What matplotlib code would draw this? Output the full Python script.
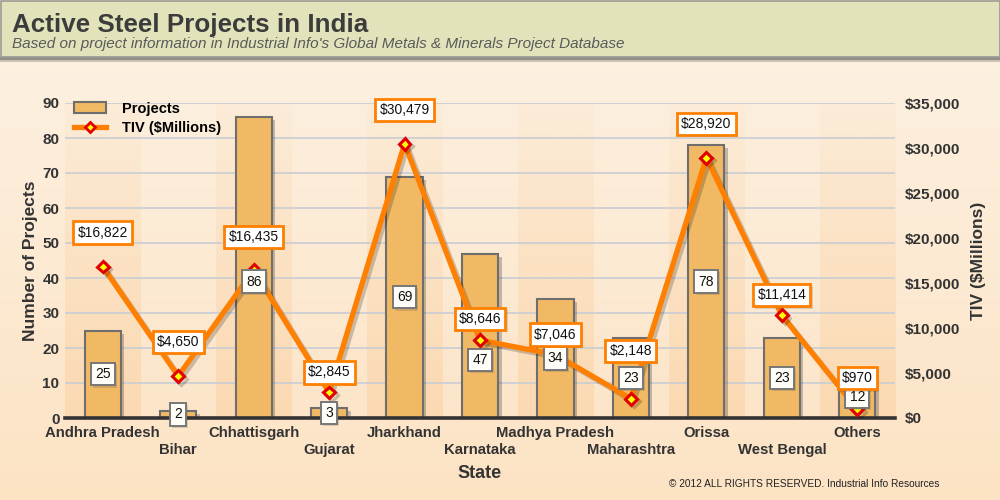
import numpy as np
import matplotlib
matplotlib.use('Agg')
import matplotlib.pyplot as plt
import matplotlib.patheffects as pe
from matplotlib.patches import Rectangle, Patch
from matplotlib.lines import Line2D
from matplotlib.colors import LinearSegmentedColormap, to_rgb
from matplotlib.ticker import FuncFormatter, FixedLocator, FixedFormatter

# ---------------- data ----------------
states = ["Andhra Pradesh", "Bihar", "Chhattisgarh", "Gujarat", "Jharkhand",
          "Karnataka", "Madhya Pradesh", "Maharashtra", "Orissa",
          "West Bengal", "Others"]
projects = [25, 2, 86, 3, 69, 47, 34, 23, 78, 23, 12]
tiv = [16822, 4650, 16435, 2845, 30479, 8646, 7046, 2148, 28920, 11414, 970]
left_ticks = list(range(0, 91, 10))
right_ticks = list(range(0, 35001, 5000))

# label placement offsets (pixels) -- style only
tiv_label_dy = [34, 34, 33, 20, 34, 21, 20, 48, 34, 20, 31]
bar_label_dy = [0, 0, -14, 0, 0, -24, 0, 0, 0, 0, 0]

plt.rcParams['font.family'] = ['Liberation Sans', 'DejaVu Sans']

fig = plt.figure(figsize=(10, 5), dpi=100)

# ---------------- background ----------------
bg = fig.add_axes([0, 0, 1, 1], zorder=-10)
bg.set_axis_off()
grad = np.linspace(0, 1, 256)[:, None]
cmap = LinearSegmentedColormap.from_list('bg', ['#fdf2e4', '#fce3c4'])
bg.imshow(grad, aspect='auto', cmap=cmap, extent=[0, 1, 0, 1], origin='upper')
bg.set_xlim(0, 1)
bg.set_ylim(0, 1)
# title bar with shadow
bg.add_patch(Rectangle((0, 1 - 62 / 500), 1, 5 / 500, transform=bg.transAxes,
                       facecolor='#cbc3b4', edgecolor='none', zorder=2))
bg.add_patch(Rectangle((0, 1 - 59.5 / 500), 1, 3 / 500, transform=bg.transAxes,
                       facecolor='#909088', edgecolor='none', zorder=3))
bg.add_patch(Rectangle((0.0005, 1 - 57 / 500), 0.999, 56.5 / 500, transform=bg.transAxes,
                       facecolor='#e3e3bb', edgecolor='#9a9a92', lw=1.2, zorder=4))

fig.text(0.012, 1 - 32 / 500, "Active Steel Projects in India", fontsize=18.7,
         fontweight='bold', color='#3c3c3c', ha='left', va='baseline')
fig.text(0.012, 1 - 48 / 500,
         "Based on project information in Industrial Info's Global Metals & Minerals Project Database",
         fontsize=11, style='italic', color='#5a5a5a', ha='left', va='baseline')
fig.text(0.939, 1 - 484 / 500, "\u00a9 2012 ALL RIGHTS RESERVED. Industrial Info Resources",
         fontsize=7.3, color='#222222', ha='right', va='center')

# ---------------- main axes ----------------
ax = fig.add_axes([0.065, 0.164, 0.83, 0.63])
ax.patch.set_visible(False)
x = np.arange(len(states))

# alternating bands with vertical fade
band_rgb = to_rgb('#fbd0a0')
alpha_col = np.linspace(0.08, 0.55, 128)[:, None]
band_img = np.zeros((128, 1, 4))
band_img[..., :3] = band_rgb
band_img[..., 3] = alpha_col
for i in range(0, len(states), 2):
    ax.imshow(band_img, aspect='auto', extent=[i - 0.5, i + 0.5, 0, 90],
              origin='upper', zorder=0)
ax.set_xlim(-0.5, len(states) - 0.5)
ax.set_ylim(0, 90)

ax.set_yticks(left_ticks)
ax.yaxis.grid(True, color='#c9ccd4', lw=1.2)
ax.set_axisbelow(True)

bars = ax.bar(x, projects, width=0.48, color='#f1b964', edgecolor='#6e6e6e', lw=1.5,
              zorder=2,
              path_effects=[pe.SimplePatchShadow(offset=(2.5, -2.5), shadow_rgbFace='k', alpha=0.22),
                            pe.Normal()])

for s in ['top', 'left', 'right']:
    ax.spines[s].set_visible(False)
ax.spines['bottom'].set_color('#333333')
ax.spines['bottom'].set_linewidth(2.6)
ax.spines['bottom'].set_zorder(10)

# staggered category labels: even -> major ticks, odd -> minor ticks (lower row)
even_idx = [i for i in range(len(states)) if i % 2 == 0]
odd_idx = [i for i in range(len(states)) if i % 2 == 1]
ax.xaxis.set_major_locator(FixedLocator(even_idx))
ax.xaxis.set_major_formatter(FixedFormatter([states[i] for i in even_idx]))
ax.xaxis.set_minor_locator(FixedLocator(odd_idx))
ax.xaxis.set_minor_formatter(FixedFormatter([states[i] for i in odd_idx]))
ax.tick_params(axis='x', which='major', length=0, pad=6)
ax.tick_params(axis='x', which='minor', length=0, pad=18)
for lab in ax.get_xticklabels(which='both'):
    lab.set_fontsize(10.7)
    lab.set_fontweight('bold')
    lab.set_color('#333333')

ax.tick_params(axis='y', length=0, pad=4, labelsize=11, labelcolor='#333333')
for lab in ax.get_yticklabels():
    lab.set_fontweight('bold')
ax.set_ylabel("Number of Projects", fontsize=12.5, fontweight='bold', color='#333333', labelpad=3)
ax.set_xlabel("State", fontsize=13, fontweight='bold', color='#333333', labelpad=6)

# ---------------- secondary axis ----------------
ax2 = ax.twinx()
ax2.set_ylim(0, 35000)
ax2.set_yticks(right_ticks)
ax2.yaxis.set_major_formatter(FuncFormatter(lambda v, p: f"${int(v):,}"))
for s in ['top', 'left', 'right', 'bottom']:
    ax2.spines[s].set_visible(False)
ax2.tick_params(axis='y', length=0, pad=7, labelsize=11, labelcolor='#333333')
for lab in ax2.get_yticklabels():
    lab.set_fontweight('bold')
ax2.set_ylabel("TIV ($Millions)", fontsize=12.5, fontweight='bold', color='#333333', labelpad=8)

ax2.plot(x, tiv, color='#ff8000', lw=3.8, zorder=3,
         marker='D', ms=6, mfc='#ffff00', mec='#e00000', mew=2.2,
         path_effects=[pe.SimpleLineShadow(offset=(2, -2), alpha=0.2), pe.Normal()])

# bar value labels
for i, p in enumerate(projects):
    t = ax2.annotate(str(p), xy=(i, p / 2), xycoords=ax.transData,
                     xytext=(0, bar_label_dy[i]), textcoords='offset pixels',
                     ha='center', va='center', fontsize=10, color='#111111', zorder=5,
                     bbox=dict(boxstyle='square,pad=0.3', fc='#fffdf8', ec='#777777', lw=1.4))
    t.get_bbox_patch().set_path_effects([pe.SimplePatchShadow(offset=(1.5, -1.5), alpha=0.2), pe.Normal()])

# TIV labels
for i, v in enumerate(tiv):
    t = ax2.annotate(f"${v:,}", xy=(i, v), xytext=(0, tiv_label_dy[i]),
                     textcoords='offset pixels', ha='center', va='center',
                     fontsize=10, color='#111111', zorder=6,
                     bbox=dict(boxstyle='square,pad=0.3', fc='white', ec='#ff8000', lw=2))
    t.get_bbox_patch().set_path_effects([pe.SimplePatchShadow(offset=(1.5, -1.5), alpha=0.2), pe.Normal()])

# legend
handles = [Patch(facecolor='#f1b964', edgecolor='#6e6e6e', lw=1.5),
           Line2D([], [], color='#ff8000', lw=3.8, marker='D', ms=5.5, mfc='#ffff00',
                  mec='#e00000', mew=2)]
leg = ax2.legend(handles, ["Projects", "TIV ($Millions)"], loc='upper left',
                 bbox_to_anchor=(-0.005, 1.045), frameon=False, handlelength=2.2,
                 handleheight=0.8, handletextpad=1.1, labelspacing=0.35,
                 prop={'weight': 'bold', 'size': 10.5})
leg.set_zorder(20)

fig.savefig('out.png', dpi=100)
